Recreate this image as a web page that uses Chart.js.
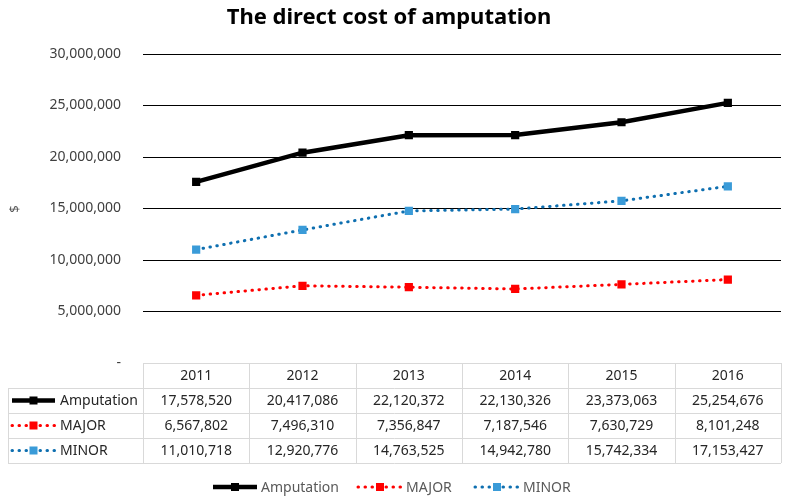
<!DOCTYPE html>
<html>
<head>
<meta charset="utf-8">
<script src="https://cdn.jsdelivr.net/npm/chart.js@4"></script>
<style>
  html, body { margin: 0; padding: 0; background: #fff; }
  #wrap { width: 789px; height: 498px; }
</style>
</head>
<body>
<div id="wrap"><canvas id="c" width="789" height="498"></canvas></div>
<script>
'use strict';

// ---- data ----
const YEARS = ['2011', '2012', '2013', '2014', '2015', '2016'];
const AMPUTATION = [17578520, 20417086, 22120372, 22130326, 23373063, 25254676];
const MAJOR = [6567802, 7496310, 7356847, 7187546, 7630729, 8101248];
const MINOR = [11010718, 12920776, 14763525, 14942780, 15742334, 17153427];
const SERIES_NAMES = ['Amputation', 'MAJOR', 'MINOR'];
const Y_TICKS = [0, 5000000, 10000000, 15000000, 20000000, 25000000, 30000000];

const FONT = '"Noto Sans", "Open Sans", sans-serif';
const TEXT = '#262626';

const STYLE = [
  { line: '#000000', marker: '#000000', width: 4.5, dash: [] },
  { line: '#ff0000', marker: '#ff0000', width: 3, dash: [0.5, 6.5] },
  { line: '#0e6fb0', marker: '#3a9bd8', width: 3, dash: [0.5, 6.5] },
];

function fmt(v) {
  return v.toLocaleString('en-US');
}

// legend key: line + square marker
function drawKey(ctx, x0, x1, y, st) {
  ctx.save();
  ctx.strokeStyle = st.line;
  ctx.lineWidth = st.width;
  ctx.lineCap = st.dash.length ? 'round' : 'butt';
  ctx.setLineDash(st.dash);
  ctx.beginPath();
  ctx.moveTo(x0, y);
  ctx.lineTo(x1, y);
  ctx.stroke();
  ctx.setLineDash([]);
  ctx.fillStyle = st.marker;
  const mx = (x0 + x1) / 2;
  ctx.fillRect(mx - 4, y - 4, 8, 8);
  ctx.restore();
}

// title, y title, data table and bottom legend
const tablePlugin = {
  id: 'dataTable',
  afterDraw(chart) {
    const ctx = chart.ctx;
    const area = chart.chartArea;
    const xs = chart.scales.x;
    const colW = (area.right - area.left) / YEARS.length;
    const top = area.bottom;
    const rowH = 25;
    const leftX = 8;
    const data = [AMPUTATION, MAJOR, MINOR];

    ctx.save();
    // title
    ctx.fillStyle = '#000';
    ctx.font = 'bold 22px ' + FONT;
    ctx.textAlign = 'center';
    ctx.textBaseline = 'middle';
    ctx.fillText('The direct cost of amputation', 389, 18);

    // y title
    ctx.save();
    ctx.translate(15, 209);
    ctx.rotate(-Math.PI / 2);
    ctx.font = '13px ' + FONT;
    ctx.fillStyle = '#595959';
    ctx.fillText('$', 0, 0);
    ctx.restore();

    // table grid
    ctx.strokeStyle = '#d9d9d9';
    ctx.lineWidth = 1;
    ctx.beginPath();
    // horizontal lines
    ctx.moveTo(area.left, top + 0.5);
    ctx.lineTo(area.right, top + 0.5);
    for (let r = 1; r <= 4; r++) {
      const y = Math.round(top + r * rowH) + 0.5;
      ctx.moveTo(leftX, y);
      ctx.lineTo(area.right, y);
    }
    // vertical lines
    ctx.moveTo(leftX + 0.5, top + rowH);
    ctx.lineTo(leftX + 0.5, top + 4 * rowH);
    for (let c = 0; c <= YEARS.length; c++) {
      const x = Math.round(area.left + c * colW) + 0.5;
      ctx.moveTo(x, top);
      ctx.lineTo(x, top + 4 * rowH);
    }
    ctx.stroke();

    // header + values
    ctx.fillStyle = TEXT;
    ctx.font = '14px ' + FONT;
    ctx.textAlign = 'center';
    YEARS.forEach((yr, i) => {
      const cx = xs.getPixelForValue(i);
      ctx.fillText(yr, cx, top + rowH / 2 + 1);
      data.forEach((arr, r) => {
        ctx.fillText(fmt(arr[i]), cx, top + (r + 1.5) * rowH + 1);
      });
    });

    // row keys
    ctx.textAlign = 'left';
    SERIES_NAMES.forEach((name, r) => {
      const cy = top + (r + 1.5) * rowH;
      drawKey(ctx, 12, 55, cy, STYLE[r]);
      ctx.fillStyle = TEXT;
      ctx.fillText(name, 60, cy + 1);
    });

    // bottom legend
    const legend = [213, 358, 475];
    const ly = 487;
    ctx.font = '14px ' + FONT;
    SERIES_NAMES.forEach((name, r) => {
      drawKey(ctx, legend[r], legend[r] + 44, ly, STYLE[r]);
      ctx.fillStyle = '#595959';
      ctx.fillText(name, legend[r] + 48, ly + 1);
    });
    ctx.restore();
  },
};

const datasets = [AMPUTATION, MAJOR, MINOR].map((arr, i) => ({
  label: SERIES_NAMES[i],
  data: arr,
  borderColor: STYLE[i].line,
  backgroundColor: STYLE[i].marker,
  borderWidth: STYLE[i].width,
  borderDash: STYLE[i].dash,
  borderCapStyle: STYLE[i].dash.length ? 'round' : 'butt',
  pointStyle: 'rect',
  pointRadius: 5.8,
  pointBorderWidth: 0,
  pointBackgroundColor: STYLE[i].marker,
  tension: 0,
  order: 3 - i,
}));

new Chart(document.getElementById('c'), {
  type: 'line',
  data: { labels: YEARS, datasets },
  options: {
    responsive: false,
    animation: false,
    events: [],
    layout: { padding: { top: 54, right: 8, bottom: 135, left: 0 } },
    plugins: {
      legend: { display: false },
      title: { display: false },
      tooltip: { enabled: false },
    },
    scales: {
      x: {
        display: false,
        offset: true,
      },
      y: {
        min: 0,
        max: 30000000,
        afterBuildTicks(scale) {
          scale.ticks = Y_TICKS.map(v => ({ value: v }));
        },
        afterFit(scale) {
          scale.width = 143;
        },
        border: { display: false },
        grid: {
          color: ctx => (ctx.tick && ctx.tick.value === 0 ? 'rgba(0,0,0,0)' : '#000'),
          lineWidth: 1,
          drawTicks: false,
        },
        ticks: {
          padding: 22,
          color: '#404040',
          font: { family: FONT, size: 14 },
          callback(value) {
            return value === 0 ? '-' : fmt(value);
          },
        },
      },
    },
  },
  plugins: [tablePlugin],
});
</script>
</body>
</html>
